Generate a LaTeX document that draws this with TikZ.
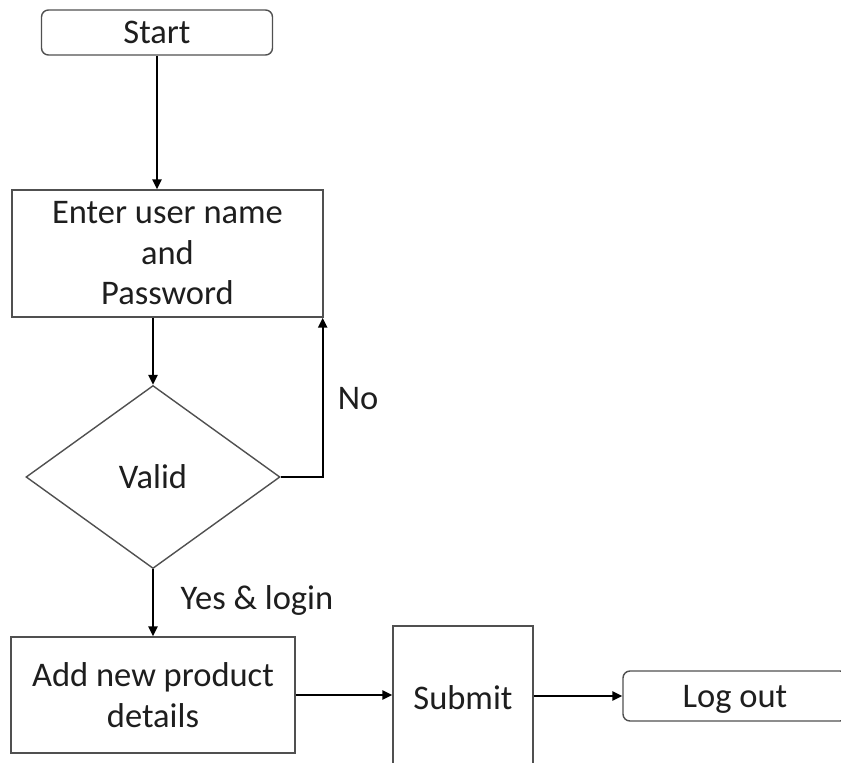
\documentclass[tikz,border=0pt]{standalone}
\usepackage{fontspec}
\setmainfont{Carlito}
\usetikzlibrary{shapes.geometric,arrows.meta}
\definecolor{boxline}{HTML}{505050}
\definecolor{txt}{HTML}{1E1E1E}
\tikzset{
  base/.style={draw=boxline, line width=1.4pt, text=txt, inner sep=0pt, align=center,
    font=\fontsize{34.5}{40.5}\selectfont},
  terminal/.style={base, rounded corners=7pt},
  procbox/.style={base, rectangle},
  decision/.style={base, diamond},
  conn/.style={draw=black, line width=2.3pt, -{Triangle[length=10pt,width=9pt]}},
  lbl/.style={text=txt, inner sep=0pt, font=\fontsize{34.5}{40.5}\selectfont}
}
\begin{document}
\begin{tikzpicture}[x=1pt,y=-1pt]
\fill[white] (0,0) rectangle (841,763);
\useasboundingbox (0,0) rectangle (841,763);
\clip (0,0) rectangle (841,763);

\node[terminal, minimum width=231pt, minimum height=45pt] (start) at (157,32.5) {Start};
\node[procbox, minimum width=311pt, minimum height=127pt] (enter) at (167.5,253.5) {Enter user name\\and\\Password};
\node[decision, minimum width=254pt, minimum height=183pt] (valid) at (153,477) {Valid};
\node[procbox, minimum width=284pt, minimum height=116pt] (add) at (153,695) {Add new product\\details};
\node[procbox, minimum width=140pt, minimum height=144pt] (submit) at (463,698) {Submit};
\node[terminal, minimum width=224pt, minimum height=50pt, text depth=0pt] (logout) at (735,696) {Log out};

\node[lbl] (no) at (358,399) {No};
\node[lbl] (yes) at (257,600) {Yes \& login};

\coordinate (noret) at ([xshift=-1pt]enter.south east);

\draw[conn] (start.south) -- (start.south |- enter.north);
\draw[conn] (enter.south -| valid.north) -- (valid.north);
\draw[conn] (valid.east) -| (noret);
\draw[conn] (valid.south) -- (add.north);
\draw[conn] (add.east) -- (add.east -| submit.west);
\draw[conn] (submit.east |- logout.west) -- (logout.west);
\end{tikzpicture}
\end{document}
